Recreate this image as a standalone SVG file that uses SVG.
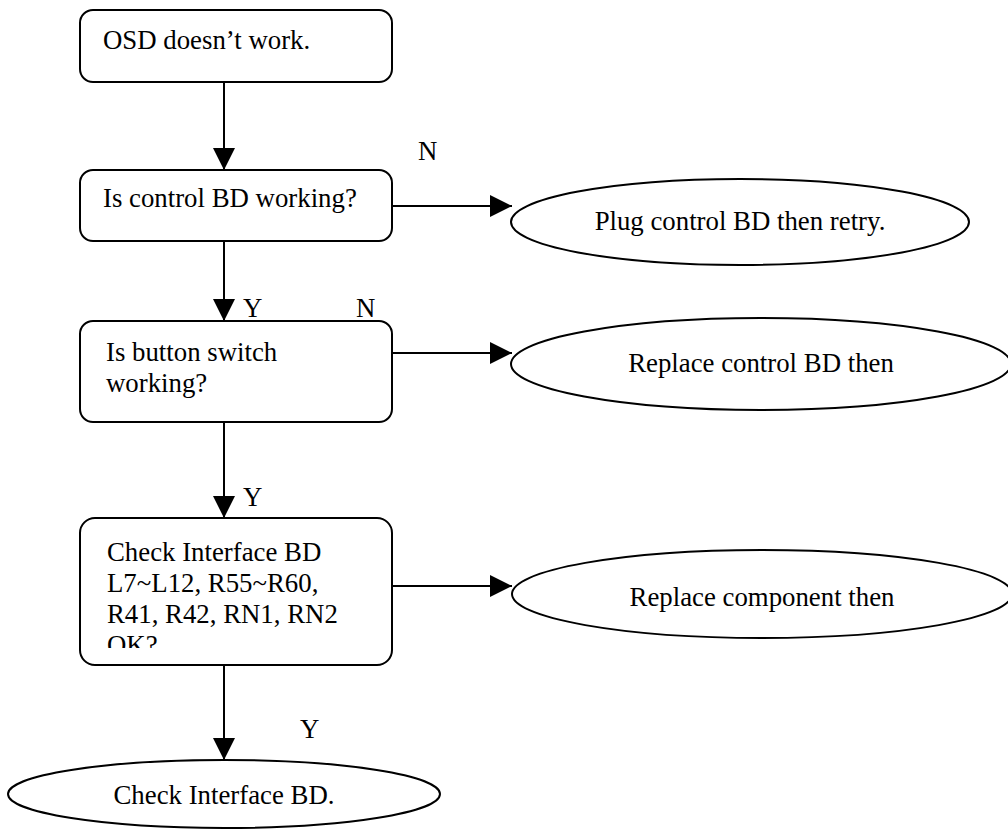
<svg xmlns="http://www.w3.org/2000/svg" width="1008" height="831" viewBox="0 0 1008 831">
<style>
.box{fill:#fff;stroke:#000;stroke-width:2}
.ell{fill:#fff;stroke:#000;stroke-width:2}
.t{font-family:"Liberation Serif","Times New Roman",serif;font-size:26.8px;fill:#000}
.c{text-anchor:middle}
.conn{stroke:#000;stroke-width:2;fill:none;marker-end:url(#ah)}
</style>
<defs>
<marker id="ah" markerUnits="userSpaceOnUse" markerWidth="22" markerHeight="22" refX="22" refY="11" orient="auto" viewBox="0 0 22 22">
<path d="M0,0 L22,11 L0,22 z" fill="#000"/>
</marker>
<clipPath id="clip4"><rect x="80" y="518" width="312" height="130"/></clipPath>
</defs>
<rect width="1008" height="831" fill="#fff"/>
<g id="connectors">
<line class="conn" x1="224" y1="82" x2="224" y2="170"/>
<line class="conn" x1="224" y1="241" x2="224" y2="321"/>
<line class="conn" x1="224" y1="422" x2="224" y2="518"/>
<line class="conn" x1="224" y1="665" x2="224" y2="760"/>
<line class="conn" x1="392" y1="206" x2="512" y2="206"/>
<line class="conn" x1="392" y1="353" x2="512" y2="353"/>
<line class="conn" x1="392" y1="586" x2="512" y2="586"/>
<text class="t" x="418" y="160">N</text>
<text class="t" x="243" y="317">Y</text>
<text class="t" x="356" y="317">N</text>
<text class="t" x="243" y="506">Y</text>
<text class="t" x="300" y="738">Y</text>
</g>
<g id="n1">
<rect class="box" x="80" y="10" width="312" height="72" rx="13"/>
<text class="t" x="103" y="49">OSD doesn’t work.</text>
</g>
<g id="n2">
<rect class="box" x="80" y="170" width="312" height="71" rx="13"/>
<text class="t" x="103" y="207">Is control BD working?</text>
</g>
<g id="n3">
<rect class="box" x="80" y="321" width="312" height="101" rx="13"/>
<text class="t" x="106" y="361">Is button switch</text>
<text class="t" x="106" y="392">working?</text>
</g>
<g id="n4">
<rect class="box" x="80" y="518" width="312" height="147" rx="15"/>
<g clip-path="url(#clip4)">
<text class="t" x="107" y="561">Check Interface BD</text>
<text class="t" x="107" y="592">L7~L12, R55~R60,</text>
<text class="t" x="107" y="623">R41, R42, RN1, RN2</text>
<text class="t" x="107" y="654">OK?</text>
</g>
</g>
<g id="e1">
<ellipse class="ell" cx="740" cy="222" rx="229" ry="43"/>
<text class="t c" x="740" y="230">Plug control BD then retry.</text>
</g>
<g id="e2">
<ellipse class="ell" cx="761" cy="364" rx="250" ry="46"/>
<text class="t c" x="761" y="372">Replace control BD then</text>
</g>
<g id="e3">
<ellipse class="ell" cx="762" cy="594" rx="250" ry="44"/>
<text class="t c" x="762" y="606">Replace component then</text>
</g>
<g id="e4">
<ellipse class="ell" cx="224" cy="794" rx="216" ry="34"/>
<text class="t c" x="224" y="804">Check Interface BD.</text>
</g>
</svg>
